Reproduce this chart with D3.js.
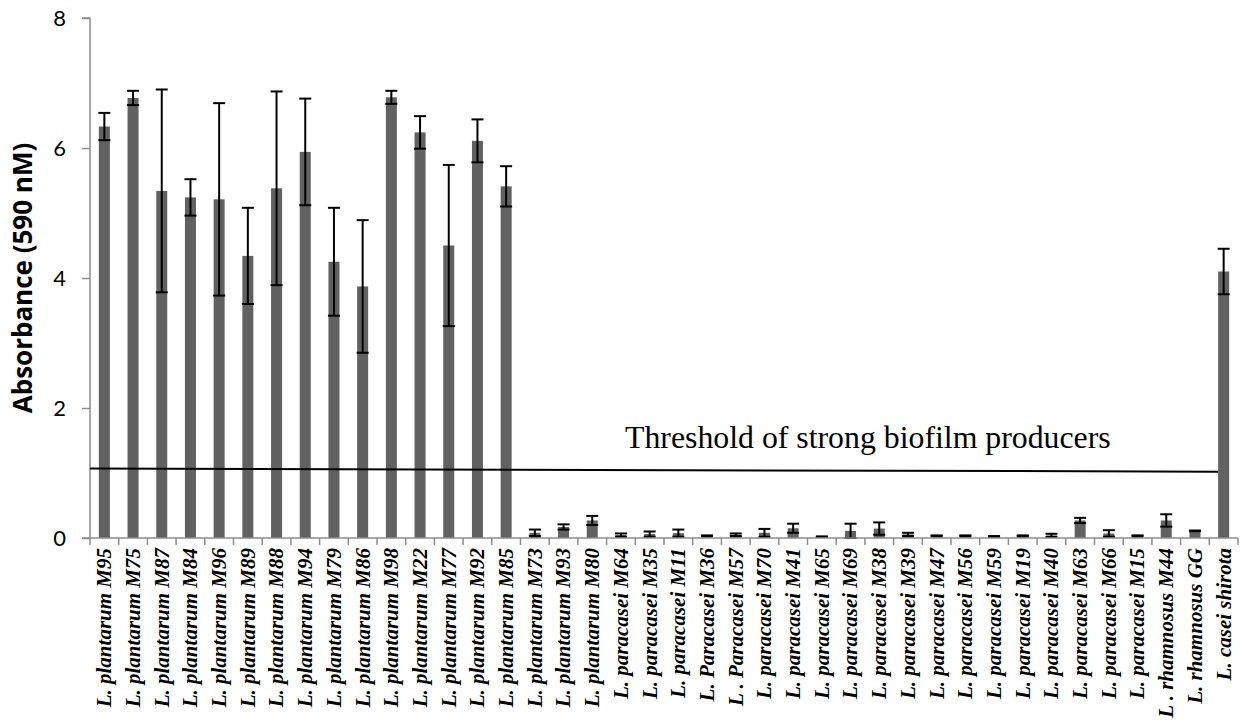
<!DOCTYPE html>
<html>
<head>
<meta charset="utf-8">
<script src="https://cdn.jsdelivr.net/npm/d3@7"></script>
<style>
  html, body { margin: 0; padding: 0; background: #fff; }
  svg { display: block; }
</style>
</head>
<body>
<svg id="chart" width="1248" height="726"></svg>
<script>
// Strain names along the x axis
const strains = [
  "L. plantarum M95", "L. plantarum M75", "L. plantarum M87", "L. plantarum M84",
  "L. plantarum M96", "L. plantarum M89", "L. plantarum M88", "L. plantarum M94",
  "L. plantarum M79", "L. plantarum M86", "L. plantarum M98", "L. plantarum M22",
  "L. plantarum M77", "L. plantarum M92", "L. plantarum M85", "L. plantarum M73",
  "L. plantarum M93", "L. plantarum M80", "L. paracasei M64", "L. paracasei M35",
  "L. paracasei M11", "L. Paracasei M36", "L . Paracasei M57", "L. paracasei M70",
  "L. paracasei M41", "L. paracasei M65", "L. paracasei M69", "L. paracasei M38",
  "L. paracasei M39", "L. paracasei M47", "L. paracasei M56", "L. paracasei M59",
  "L. paracasei M19", "L. paracasei M40", "L. paracasei M63", "L. paracasei M66",
  "L. paracasei M15", "L . rhamnosus M44", "L. rhamnosus GG", "L. casei shirota"
];

// Mean absorbance at 590 nm
const absorbance = [
  6.33, 6.77, 5.34, 5.24, 5.21, 4.34, 5.38, 5.94, 4.25, 3.87,
  6.78, 6.24, 4.50, 6.11, 5.41, 0.08, 0.17, 0.27, 0.045, 0.06,
  0.075, 0.035, 0.05, 0.08, 0.15, 0.02, 0.11, 0.145, 0.055, 0.035,
  0.035, 0.025, 0.035, 0.04, 0.27, 0.07, 0.035, 0.27, 0.11, 4.10
];

// Standard deviation (error bar half-length)
const stdDev = [
  0.21, 0.11, 1.56, 0.28, 1.48, 0.74, 1.49, 0.82, 0.83, 1.02,
  0.10, 0.25, 1.24, 0.33, 0.31, 0.05, 0.04, 0.07, 0.025, 0.04,
  0.055, 0.005, 0.02, 0.06, 0.07, 0.005, 0.11, 0.095, 0.025, 0.005,
  0.005, 0.005, 0.005, 0.025, 0.04, 0.05, 0.005, 0.095, 0.005, 0.35
];

const yTicks = [0, 2, 4, 6, 8];

// Threshold line for strong biofilm producers (start / end values)
const thresholdValues = [1.07, 1.02];
const thresholdLabel = "Threshold of strong biofilm producers";

const svg = d3.select("#chart");

const plotLeft = 90, plotRight = 1238, plotTop = 18, plotBottom = 538;

const x = d3.scaleBand()
  .domain(strains)
  .range([plotLeft, plotRight])
  .paddingInner(0)
  .paddingOuter(0);

const y = d3.scaleLinear().domain([0, 8]).range([plotBottom, plotTop]);

const barW = 11;
const axisColor = "#8c8c8c";

// Bars
svg.append("g")
  .selectAll("rect")
  .data(strains)
  .join("rect")
  .attr("x", d => x(d) + x.bandwidth() / 2 - barW / 2)
  .attr("y", (d, i) => y(absorbance[i]))
  .attr("width", barW)
  .attr("height", (d, i) => y(0) - y(absorbance[i]))
  .attr("fill", "#616161");

// Error bars
const eg = svg.append("g").attr("stroke", "#000").attr("stroke-width", 2);
strains.forEach((s, i) => {
  const cx = x(s) + x.bandwidth() / 2;
  const hi = y(absorbance[i] + stdDev[i]);
  const lo = y(Math.max(0, absorbance[i] - stdDev[i]));
  eg.append("line").attr("x1", cx).attr("x2", cx).attr("y1", hi).attr("y2", lo);
  eg.append("line").attr("x1", cx - 6).attr("x2", cx + 6).attr("y1", hi).attr("y2", hi);
  eg.append("line").attr("x1", cx - 6).attr("x2", cx + 6).attr("y1", lo).attr("y2", lo);
});

// Y axis
const yAxis = svg.append("g")
  .attr("transform", `translate(${plotLeft},0)`)
  .call(d3.axisLeft(y).tickValues(yTicks).tickSize(8).tickPadding(16).tickFormat(d3.format("d")));
yAxis.select(".domain").attr("stroke", axisColor).attr("stroke-width", 1.5).attr("d", `M-8,${plotTop}H0V${plotBottom}H-8`);
yAxis.selectAll(".tick line").attr("stroke", axisColor).attr("stroke-width", 1.5);
yAxis.selectAll(".tick text")
  .attr("font-family", "Lato, 'Open Sans', sans-serif")
  .attr("font-size", 22)
  .attr("fill", "#000");

// X axis with category labels
const xAxis = svg.append("g")
  .attr("transform", `translate(0,${plotBottom})`)
  .call(d3.axisBottom(x).tickSize(0).tickPadding(0));
xAxis.select(".domain").attr("stroke", axisColor).attr("stroke-width", 1.5).attr("d", `M${plotLeft},0H${plotRight}`);
xAxis.selectAll(".tick text")
  .attr("font-family", "'Liberation Serif', 'Times New Roman', serif")
  .attr("font-weight", "bold")
  .attr("font-style", "italic")
  .attr("font-size", 21)
  .attr("fill", "#000")
  .attr("text-anchor", "end")
  .attr("dy", "0.33em")
  .attr("transform", "translate(0,10) rotate(-90)")
  .attr("x", 0)
  .attr("y", 0);

// Category boundary ticks
const edges = strains.map(s => x(s)).concat([plotRight]);
xAxis.append("g")
  .selectAll("line")
  .data(edges)
  .join("line")
  .attr("x1", d => d).attr("x2", d => d)
  .attr("y1", 0).attr("y2", 7)
  .attr("stroke", axisColor)
  .attr("stroke-width", 1.5);

// Y axis title
svg.append("text")
  .attr("transform", `translate(32,${(plotTop + plotBottom) / 2}) rotate(-90)`)
  .attr("text-anchor", "middle")
  .attr("font-family", "'Open Sans', Lato, sans-serif")
  .attr("font-weight", "bold")
  .attr("font-size", 26)
  .attr("fill", "#000")
  .text("Absorbance (590 nM)");

// Threshold line and label
const thrX0 = plotLeft, thrX1 = x(strains[strains.length - 1]) + x.bandwidth() / 2 - barW / 2;
svg.append("line")
  .attr("x1", thrX0).attr("x2", thrX1)
  .attr("y1", y(thresholdValues[0])).attr("y2", y(thresholdValues[1]))
  .attr("stroke", "#000")
  .attr("stroke-width", 2);

svg.append("text")
  .attr("x", 625)
  .attr("y", 448)
  .attr("font-family", "'Liberation Serif', 'Times New Roman', serif")
  .attr("font-size", 31.8)
  .attr("fill", "#000")
  .text(thresholdLabel);
</script>
</body>
</html>
